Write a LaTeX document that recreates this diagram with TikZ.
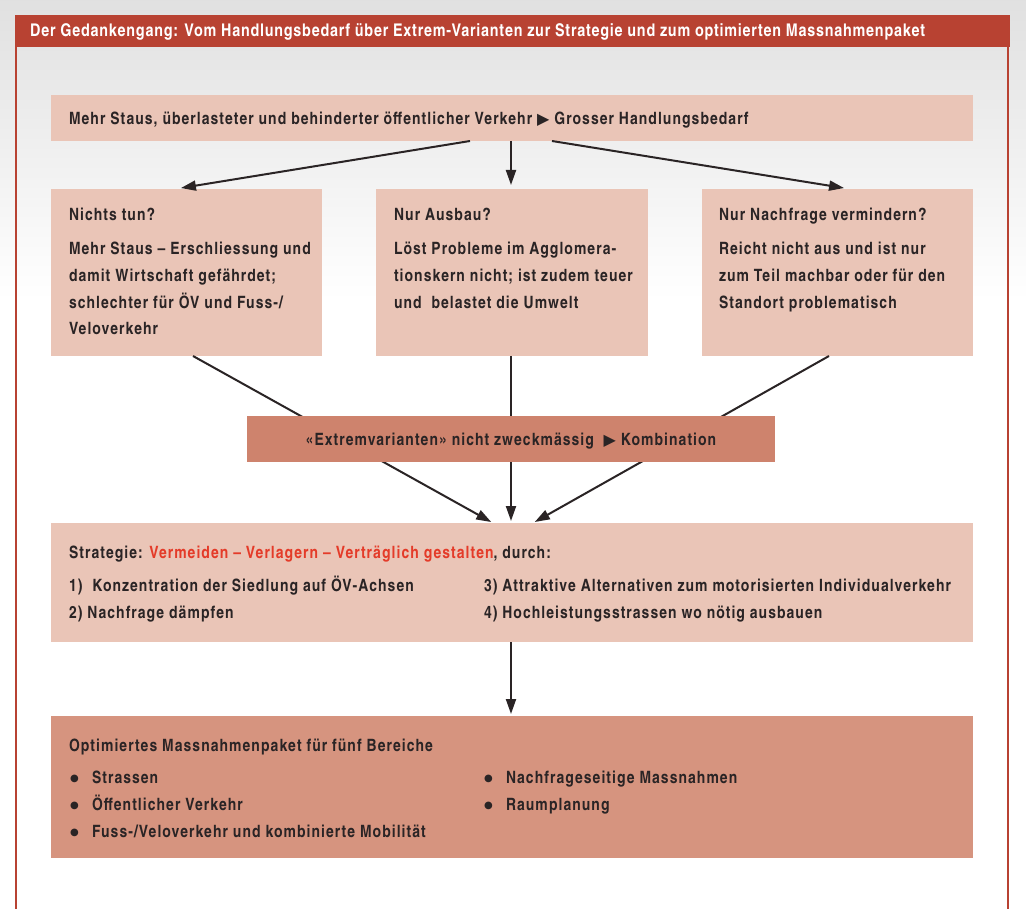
\documentclass[tikz,border=0pt]{standalone}
\usepackage{fontspec}
\setmainfont{texgyreheroscn}[Extension=.otf,UprightFont=*-bold,BoldFont=*-bold,ItalicFont=*-bolditalic,BoldItalicFont=*-bolditalic,LetterSpace=6.2]
\newfontfamily\hdrfont{texgyreheroscn}[Extension=.otf,UprightFont=*-bold,LetterSpace=4.4]
\newfontfamily\symfont{DejaVu Sans}
\usetikzlibrary{arrows.meta,calc}
\definecolor{frame}{HTML}{B84232}
\definecolor{light}{HTML}{EAC5B7}
\definecolor{mid}{HTML}{CE836D}
\definecolor{dark}{HTML}{D6947F}
\definecolor{ink}{HTML}{2A2425}
\definecolor{hl}{HTML}{E43B29}
\newcommand{\tri}{{\symfont\fontsize{16}{16}\selectfont ▶}}
\newcommand{\tline}[4]{\node[txt] (#1) at (#2,#3) {#4};}
\newcommand{\bul}{\raisebox{1.5pt}{\symfont\fontsize{10}{10}\selectfont ●}}
\tikzset{
  box/.style={inner sep=0pt, outer sep=0pt, anchor=north west, draw=none},
  txt/.style={anchor=base west, inner sep=0pt, outer sep=0pt, text=ink, font=\fontsize{17}{27}\selectfont},
  hdr/.style={anchor=base west, inner sep=0pt, text=white, font=\hdrfont\fontsize{17.5}{22}\selectfont},
  arr/.style={draw=ink, line width=2pt, -{Triangle[length=15pt,width=10pt]}}
}
\begin{document}
\begin{tikzpicture}[x=1pt,y=-1pt]
\useasboundingbox (0,0) rectangle (1026,909);
\shade[top color=black!12, bottom color=white] (0,0) rectangle (1026,300);
\fill[white] (0,300) rectangle (1026,909);
% frame
\draw[frame, line width=2pt] (16,30) -- (16,909);
\draw[frame, line width=2pt] (1008,30) -- (1008,909);
\node[box, fill=frame, minimum width=995pt, minimum height=32pt] (hbar) at (15,15) {};
\node[hdr] (title) at (30,37) {Der Gedankengang: Vom Handlungsbedarf über Extrem-Varianten zur Strategie und zum optimierten Massnahmenpaket};
% boxes
\node[box, fill=light, minimum width=922pt, minimum height=46pt] (top) at (51,95) {};
\node[box, fill=light, minimum width=271pt, minimum height=167pt] (nichts) at (51,189) {};
\node[box, fill=light, minimum width=272pt, minimum height=167pt] (ausbau) at (376,189) {};
\node[box, fill=light, minimum width=271pt, minimum height=167pt] (nachfrage) at (702,189) {};
\node[box, fill=light, minimum width=922pt, minimum height=119pt] (strat) at (51,523) {};
\node[box, fill=dark, minimum width=922pt, minimum height=142pt] (paket) at (51,716) {};
% arrows
\draw[arr, shorten >=6pt] ([xshift=-42pt]top.south) -- ([xshift=-11.5pt]nichts.north);
\draw[arr, shorten >=4pt] ([xshift=-1pt]top.south) -- ([xshift=-1pt]ausbau.north);
\draw[arr, shorten >=6pt] ([xshift=40pt]top.south) -- ([xshift=12.5pt]nachfrage.north);
\draw[arr, shorten >=2pt] ([xshift=6.5pt]nichts.south) -- ([xshift=-19pt]strat.north);
\draw[arr, shorten >=2pt] ([xshift=-1pt]ausbau.south) -- ([xshift=-1pt]strat.north);
\draw[arr, shorten >=2pt] ([xshift=-8.5pt]nachfrage.south) -- ([xshift=21pt]strat.north);
\draw[arr, shorten >=2pt] ([xshift=-1pt]strat.south) -- ([xshift=-1pt]paket.north);
\node[box, fill=mid, minimum width=528pt, minimum height=46pt] (extrem) at (247,416) {};
% texts
\tline{t0}{69}{125}{Mehr Staus, überlasteter und behinderter öffentlicher Verkehr \tri\ Grosser Handlungsbedarf}
\tline{a0}{69}{221}{Nichts tun?}
\tline{a1}{69}{255}{Mehr Staus – Erschliessung und}
\tline{a2}{69}{282}{damit Wirtschaft gefährdet;}
\tline{a3}{69}{309}{schlechter für ÖV und Fuss-/}
\tline{a4}{69}{335}{Veloverkehr}
\tline{b0}{394}{221}{Nur Ausbau?}
\tline{b1}{394}{255}{Löst Probleme im Agglomera-}
\tline{b2}{394}{282}{tionskern nicht; ist zudem teuer}
\tline{b3}{394}{309}{und~ belastet die Umwelt}
\tline{c0}{719}{221}{Nur Nachfrage vermindern?}
\tline{c1}{719}{255}{Reicht nicht aus und ist nur}
\tline{c2}{719}{282}{zum Teil machbar oder für den}
\tline{c3}{719}{309}{Standort problematisch}
\node[txt, anchor=base] (e0) at (511,445) {«Extremvarianten» nicht zweckmässig~ \tri\ Kombination};
\tline{s0}{69}{558}{Strategie: \textcolor{hl}{Vermeiden – Verlagern – Verträglich gestalten}, durch:}
\tline{s1}{69}{591}{1)\ \ Konzentration der Siedlung auf ÖV-Achsen}
\tline{s2}{69}{618}{2) Nachfrage dämpfen}
\tline{s3}{484}{591}{3) Attraktive Alternativen zum motorisierten Individualverkehr}
\tline{s4}{484}{618}{4) Hochleistungsstrassen wo nötig ausbauen}
\tline{p0}{69}{751}{Optimiertes Massnahmenpaket für fünf Bereiche}
\tline{p1b}{70}{783}{\bul}
\tline{p1}{92}{783}{Strassen}
\tline{p2b}{70}{810}{\bul}
\tline{p2}{92}{810}{Öffentlicher Verkehr}
\tline{p3b}{70}{837}{\bul}
\tline{p3}{92}{837}{Fuss-/Veloverkehr und kombinierte Mobilität}
\tline{p4b}{484}{783}{\bul}
\tline{p4}{506}{783}{Nachfrageseitige Massnahmen}
\tline{p5b}{484}{810}{\bul}
\tline{p5}{506}{810}{Raumplanung}
\end{tikzpicture}
\end{document}
